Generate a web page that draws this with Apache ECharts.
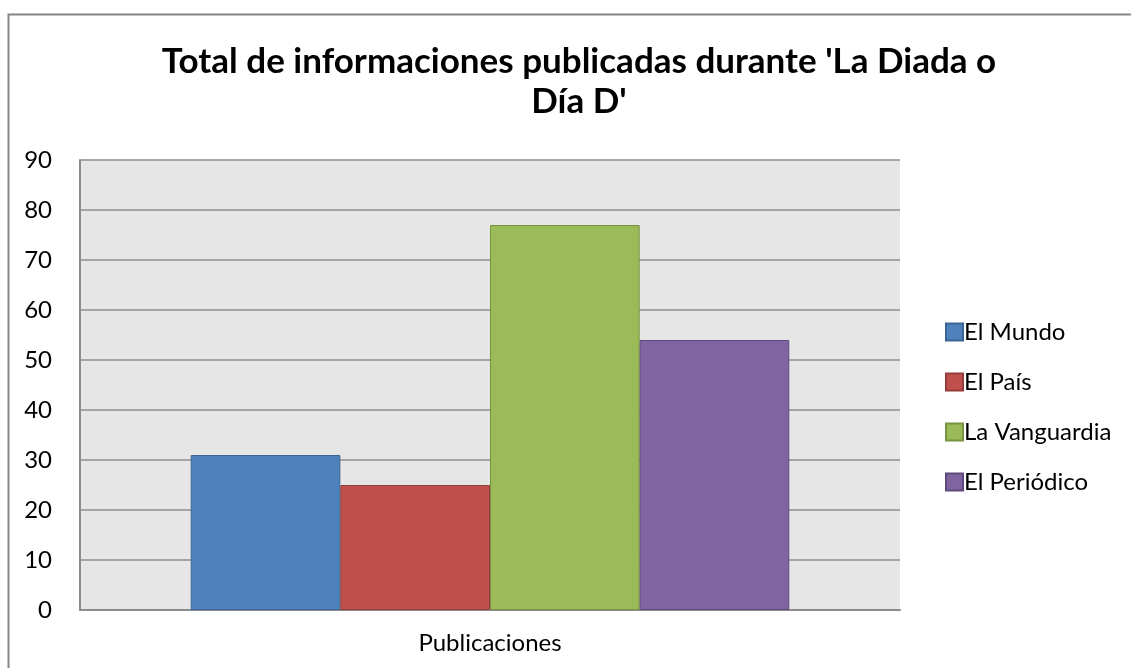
<!DOCTYPE html>
<html>
<head>
<meta charset="utf-8">
<script src="https://cdn.jsdelivr.net/npm/echarts@6/dist/echarts.min.js"></script>
<style>
html,body{margin:0;padding:0;background:#fff;}
#main{width:1131px;height:668px;}
</style>
</head>
<body>
<div id="main"></div>
<script>
var categories = ['Publicaciones'];
var seriesNames = ['El Mundo', 'El País', 'La Vanguardia', 'El Periódico'];
var seriesValues = [[31], [25], [77], [54]];
var fillColors = ['#4f81bd', '#c0504d', '#9bbb59', '#8064a2'];
var edgeColors = ['#3b6594', '#953d3a', '#779240', '#5f4a7c'];
var yTicks = {min: 0, max: 90, interval: 10};

var myChart = echarts.init(document.getElementById('main'));
var fontName = 'Lato';

var series = [];
for (var i = 0; i < seriesNames.length; i++) {
	series.push({
		name: seriesNames[i],
		type: 'bar',
		data: seriesValues[i],
		barGap: '0%',
		barCategoryGap: '27%',
		itemStyle: {
			color: fillColors[i],
			borderColor: edgeColors[i],
			borderWidth: 1
		}
	});
}

var option = {
	animation: false,
	backgroundColor: '#fff',
	textStyle: {fontFamily: fontName},
	title: {
		text: "Total de informaciones publicadas durante 'La Diada o\nDía D'",
		left: 574,
		textAlign: 'center',
		top: 37,
		textStyle: {
			fontFamily: fontName,
			fontWeight: 'bold',
			fontSize: 35,
			lineHeight: 40,
			color: '#000'
		}
	},
	graphic: [{
		type: 'rect',
		shape: {x: 8.5, y: 14.5, width: 1140, height: 680},
		style: {fill: null, stroke: '#868686', lineWidth: 2},
		silent: true
	}],
	legend: {
		orient: 'vertical',
		left: 940,
		top: 314,
		icon: 'rect',
		itemWidth: 17,
		itemHeight: 17,
		itemGap: 24,
		data: seriesNames,
		textStyle: {fontFamily: fontName, fontSize: 24, lineHeight: 26, color: '#000', padding: [0, 0, 0, -4]}
	},
	grid: {
		left: 80,
		right: 231,
		top: 160,
		bottom: 58,
		show: true,
		backgroundColor: '#e6e6e6',
		borderWidth: 0
	},
	xAxis: {
		type: 'category',
		data: categories,
		axisLine: {show: true, lineStyle: {color: '#8c8c8c', width: 2}},
		axisTick: {show: false},
		axisLabel: {fontFamily: fontName, fontSize: 24, color: '#000', margin: 21}
	},
	yAxis: {
		type: 'value',
		min: yTicks.min,
		max: yTicks.max,
		interval: yTicks.interval,
		axisLine: {show: true, lineStyle: {color: '#8c8c8c', width: 2}},
		axisTick: {show: false},
		splitLine: {lineStyle: {color: '#8c8c8c', width: 1.5}},
		axisLabel: {fontFamily: fontName, fontSize: 24, color: '#000', margin: 28}
	},
	series: series
};
myChart.setOption(option);
</script>
</body>
</html>
